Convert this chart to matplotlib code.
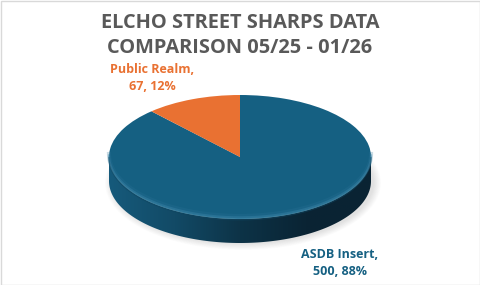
import numpy as np
import matplotlib
matplotlib.use("Agg")
import matplotlib.pyplot as plt
from matplotlib.transforms import Affine2D
from matplotlib.patches import Polygon, Rectangle, Ellipse
from matplotlib.colors import LinearSegmentedColormap

categories = ["ASDB Insert", "Public Realm"]
values = [500, 67]
colors = ["#156082", "#E97132"]
title_lines = ["ELCHO STREET SHARPS DATA", "COMPARISON 05/25 - 01/26"]

W, H = 481, 285
fig = plt.figure(figsize=(W / 100, H / 100), dpi=100)
ax = fig.add_axes([0, 0, 1, 1])

cx, cy, rx, ry, depth = 240, 128, 131, 62, 24
tr = Affine2D().scale(rx, ry).translate(cx, cy) + ax.transData

# soft shadow
for i in range(10):
    e = Ellipse((cx + 3, cy - depth - 2), 2 * rx + 14 - i * 1.6, 2 * ry + 10 - i * 1.4,
                facecolor="#000000", alpha=0.012, edgecolor="none", zorder=1)
    ax.add_patch(e)

total = sum(values)

# side band (front half) with horizontal gradient
th = np.radians(np.linspace(180, 360, 300))
top = np.column_stack([cx + rx * np.cos(th), cy + ry * np.sin(th)])
bot = top[::-1] - np.array([0, depth])
band = Polygon(np.vstack([top, bot]), closed=True, facecolor="none", edgecolor="none", zorder=2)
ax.add_patch(band)
cmap = LinearSegmentedColormap.from_list("side", ["#165a7b", "#124a66", "#0d3347", "#0a2434", "#0a2333"])
grad = np.linspace(0, 1, 256).reshape(1, -1)
im = ax.imshow(grad, cmap=cmap, extent=(cx - rx, cx + rx, cy - ry - depth - 1, cy + 1),
               aspect="auto", zorder=2, interpolation="bilinear")
im.set_clip_path(band)

# top surface via pie
wedges, _ = ax.pie(values, colors=colors, startangle=90, counterclock=False,
                   radius=1, center=(0, 0), wedgeprops=dict(linewidth=0))
for w in wedges:
    w.set_transform(tr)
    w.set_zorder(3)

# bevel highlight along the front rim
for k, (off, col, lw, al) in enumerate([(3.0, "#2b7396", 3.0, 0.25), (1.6, "#3a82a5", 1.6, 0.45),
                                         (0.4, "#4a90b0", 0.8, 0.5)]):
    ax.plot(cx + rx * np.cos(th), cy + ry * np.sin(th) + off, color=col, lw=lw, alpha=al, zorder=4)
ax.plot(cx + rx * np.cos(th), cy + ry * np.sin(th) - 0.8, color="#0e4560", lw=1.0, alpha=0.5, zorder=4)

ax.set_xlim(0, W)
ax.set_ylim(0, H)
ax.set_aspect("auto")
ax.axis("off")

# title
fam = ["Open Sans", "DejaVu Sans"]
ax.text(240, H - 23, title_lines[0], ha="center", va="center", fontsize=14.4, fontweight="bold",
        color="#595959", family=fam)
ax.text(240, H - 48, title_lines[1], ha="center", va="center", fontsize=14.4, fontweight="bold",
        color="#595959", family=fam)

# data labels
pcts = [round(100 * v / total) for v in values]
ax.text(340, H - 263, f"{categories[0]},\n{values[0]}, {pcts[0]}%", ha="center", va="center",
        fontsize=9, fontweight="bold", color=colors[0], family=fam, linespacing=1.35)
ax.text(152, H - 78, f"{categories[1]},\n{values[1]}, {pcts[1]}%", ha="center", va="center",
        fontsize=9, fontweight="bold", color=colors[1], family=fam, linespacing=1.35)

# chart border
ax.add_patch(Rectangle((0.5, 0.5), W - 1, H - 1, fill=False, edgecolor="#d9d9d9", lw=1, zorder=10))

fig.savefig("out.png", dpi=100)
